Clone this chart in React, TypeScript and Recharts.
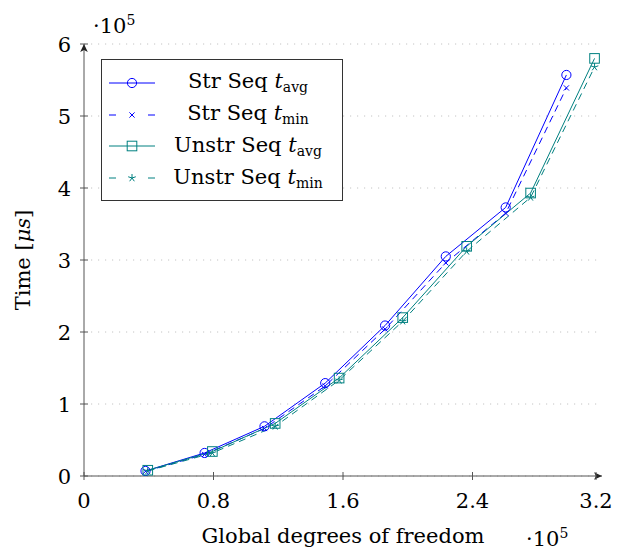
import React from 'react'
import { LineChart, Line, XAxis, YAxis, CartesianGrid } from 'recharts'

// x values (global dofs) for the two discretisations
const strDofs = [38000, 74500, 111500, 149000, 186000, 223500, 260500, 298000]
const unstrDofs = [39400, 79300, 118100, 157600, 196900, 236400, 275900, 315400]

// timings in microseconds
const strAvg = [7000, 32000, 69000, 129000, 209000, 305000, 373000, 557000]
const strMin = [6500, 30000, 66000, 125000, 204000, 296000, 365000, 539000]
const unstrAvg = [8000, 34000, 73000, 136000, 220000, 319000, 393000, 580000]
const unstrMin = [7000, 32000, 69000, 133000, 215000, 312000, 387000, 568000]

const xTicks = [0, 80000, 160000, 240000, 320000]
const yTicks = [0, 100000, 200000, 300000, 400000, 500000, 600000]

const BLUE = '#0000ff'
const TEAL = '#008080'
const AXIS = '#555555'
const FONT = '"DejaVu Serif", serif'
const FS = 21

const toRows = (xs: number[], ys: number[]) => xs.map((x, i) => ({ x, y: ys[i] }))
const fmt = (v: number) => String(Math.round(v / 10000) / 10)

type MarkKind = 'circle' | 'x' | 'square' | 'star'

function Mark({ kind, cx, cy, color }: { kind: MarkKind; cx: number; cy: number; color: string }) {
  if (kind === 'circle')
    return <circle cx={cx} cy={cy} r={4.6} fill="none" stroke={color} strokeWidth={1} />
  if (kind === 'square')
    return <rect x={cx - 4.8} y={cy - 4.8} width={9.6} height={9.6} fill="none" stroke={color} strokeWidth={1} />
  if (kind === 'x') {
    const s = 2.6
    return (
      <g stroke={color} strokeWidth={1}>
        <line x1={cx - s} y1={cy - s} x2={cx + s} y2={cy + s} />
        <line x1={cx - s} y1={cy + s} x2={cx + s} y2={cy - s} />
      </g>
    )
  }
  const r = 4
  return (
    <g stroke={color} strokeWidth={1}>
      {[0, 1, 2, 3, 4].map((k) => {
        const a = (-90 + k * 72) * (Math.PI / 180)
        return <line key={k} x1={cx} y1={cy} x2={cx + r * Math.cos(a)} y2={cy + r * Math.sin(a)} />
      })}
    </g>
  )
}

const dotFn = (kind: MarkKind, color: string) => (props: any) => (
  <g key={`${kind}-${props.index}`}>
    <Mark kind={kind} cx={props.cx} cy={props.cy} color={color} />
  </g>
)

function XTick({ x, y, payload }: any) {
  return (
    <g>
      <line x1={x} x2={x} y1={y - 4} y2={y + 4} stroke={AXIS} strokeWidth={1} />
      <text x={x} y={y + 32} textAnchor="middle" fontSize={FS} fontFamily={FONT} fill="#000">
        {fmt(payload.value)}
      </text>
    </g>
  )
}

function YTick({ x, y, payload }: any) {
  return (
    <g>
      <line x1={x - 4} x2={x + 4} y1={y} y2={y} stroke={AXIS} strokeWidth={1} />
      <text x={x - 13} y={y + 7.5} textAnchor="end" fontSize={FS} fontFamily={FONT} fill="#000">
        {fmt(payload.value)}
      </text>
    </g>
  )
}

const legendItems: { label: string; sub: string; color: string; kind: MarkKind; dashed: boolean }[] = [
  { label: 'Str Seq', sub: 'avg', color: BLUE, kind: 'circle', dashed: false },
  { label: 'Str Seq', sub: 'min', color: BLUE, kind: 'x', dashed: true },
  { label: 'Unstr Seq', sub: 'avg', color: TEAL, kind: 'square', dashed: false },
  { label: 'Unstr Seq', sub: 'min', color: TEAL, kind: 'star', dashed: true },
]

function LegendBox() {
  return (
    <div
      style={{
        position: 'absolute',
        left: 93,
        top: 51,
        width: 242,
        height: 142,
        border: '1px solid #333',
        background: '#fff',
        padding: '7px 0',
        boxSizing: 'border-box',
        fontFamily: FONT,
        fontSize: FS,
        color: '#000',
      }}
    >
      {legendItems.map((it, i) => (
        <div key={i} style={{ display: 'flex', alignItems: 'center', height: 31.8 }}>
          <svg width={48} height={14} style={{ marginLeft: 6, flex: 'none' }}>
            {it.dashed ? (
              <g stroke={it.color} strokeWidth={1}>
                <line x1={1} x2={8} y1={7} y2={7} />
                <line x1={40} x2={47} y1={7} y2={7} />
              </g>
            ) : (
              <line x1={1} x2={47} y1={7} y2={7} stroke={it.color} strokeWidth={1} />
            )}
            <Mark kind={it.kind} cx={24} cy={7} color={it.color} />
          </svg>
          <span style={{ width: 184, textAlign: 'center', lineHeight: 1, whiteSpace: 'nowrap' }}>
            {it.label} <i>t</i>
            <span style={{ fontSize: 14, verticalAlign: -4 }}>{it.sub}</span>
          </span>
        </div>
      ))}
    </div>
  )
}

export default function App() {
  return (
    <div style={{ position: 'relative', width: 612, height: 542, fontFamily: FONT }}>
      <svg width={0} height={0} style={{ position: 'absolute' }}>
        <defs>
          <marker
            id="axisArrow"
            markerUnits="userSpaceOnUse"
            markerWidth={10}
            markerHeight={10}
            refX={9}
            refY={5}
            orient="auto-start-reverse"
          >
            <path d="M1,1.2 L9,5 L1,8.8 L3,5 Z" fill="#222" />
          </marker>
        </defs>
      </svg>
      <LineChart width={612} height={542} margin={{ top: 36, right: 18, left: 0, bottom: 0 }}>
        <CartesianGrid
          vertical={false}
          stroke="#c4c4c4"
          strokeDasharray="1.2 5.8"
          horizontalValues={yTicks}
        />
        <XAxis
          type="number"
          dataKey="x"
          domain={[0, 320000]}
          ticks={xTicks}
          height={74}
          tickSize={0}
          tickMargin={0}
          tickLine={false}
          tick={XTick}
          axisLine={{ stroke: AXIS, strokeWidth: 1, markerEnd: 'url(#axisArrow)' }}
          allowDataOverflow
        />
        <YAxis
          type="number"
          dataKey="y"
          domain={[0, 600000]}
          ticks={yTicks}
          width={76}
          tickSize={0}
          tickMargin={0}
          tickLine={false}
          tick={YTick}
          axisLine={{ stroke: AXIS, strokeWidth: 1, markerStart: 'url(#axisArrow)' }}
          allowDataOverflow
        />
        <Line
          data={toRows(strDofs, strAvg)}
          dataKey="y"
          stroke={BLUE}
          strokeWidth={1}
          dot={dotFn('circle', BLUE)}
          activeDot={false}
          isAnimationActive={false}
        />
        <Line
          data={toRows(strDofs, strMin)}
          dataKey="y"
          stroke={BLUE}
          strokeWidth={1}
          strokeDasharray="7 5"
          dot={dotFn('x', BLUE)}
          activeDot={false}
          isAnimationActive={false}
        />
        <Line
          data={toRows(unstrDofs, unstrAvg)}
          dataKey="y"
          stroke={TEAL}
          strokeWidth={1}
          dot={dotFn('square', TEAL)}
          activeDot={false}
          isAnimationActive={false}
        />
        <Line
          data={toRows(unstrDofs, unstrMin)}
          dataKey="y"
          stroke={TEAL}
          strokeWidth={1}
          strokeDasharray="7 5"
          dot={dotFn('star', TEAL)}
          activeDot={false}
          isAnimationActive={false}
        />
      </LineChart>

      <LegendBox />
      <div style={{ position: 'absolute', left: 85, top: 5, fontSize: FS, lineHeight: 1 }}>
        ·10<sup style={{ fontSize: 14 }}>5</sup>
      </div>
      <div style={{ position: 'absolute', left: 518, top: 518, fontSize: FS, lineHeight: 1 }}>
        ·10<sup style={{ fontSize: 14 }}>5</sup>
      </div>
      <div
        style={{ position: 'absolute', left: 135, top: 518, width: 400, textAlign: 'center', fontSize: FS, lineHeight: 1 }}
      >
        Global degrees of freedom
      </div>
      <div
        style={{
          position: 'absolute',
          left: 15,
          top: 252,
          fontSize: FS,
          lineHeight: 1,
          whiteSpace: 'nowrap',
          transform: 'translate(-50%, -50%) rotate(-90deg)',
        }}
      >
        Time [<i>μs</i>]
      </div>
    </div>
  )
}
